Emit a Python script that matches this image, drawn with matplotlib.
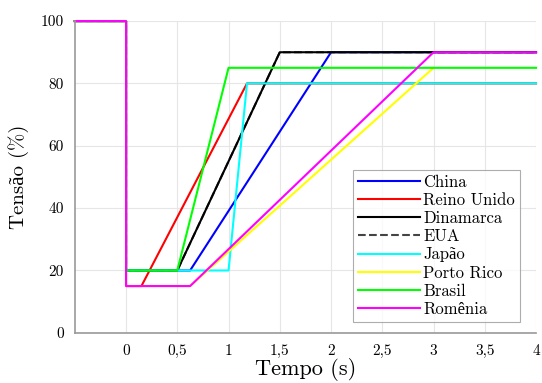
import matplotlib
matplotlib.use('Agg')
import matplotlib.pyplot as plt

# voltage profiles (time in s, voltage in %)
china_t = [-0.5, 0, 0, 0.625, 2.0, 4]
china_v = [100, 100, 20, 20, 90, 90]
reino_t = [-0.5, 0, 0, 0.15, 1.18, 4]
reino_v = [100, 100, 15, 15, 80, 80]
dinamarca_t = [-0.5, 0, 0, 0.5, 1.5, 4]
dinamarca_v = [100, 100, 20, 20, 90, 90]
eua_t = [-0.5, 0, 0, 0.5, 1.5, 4]
eua_v = [100, 100, 20, 20, 90, 90]
japao_t = [-0.5, 0, 0, 1.0, 1.18, 4]
japao_v = [100, 100, 20, 20, 80, 80]
porto_t = [-0.5, 0, 0, 0.625, 3.0]
porto_v = [100, 100, 15, 15, 85]
brasil_t = [-0.5, 0, 0, 0.5, 1.0, 4]
brasil_v = [100, 100, 20, 20, 85, 85]
romenia_t = [-0.5, 0, 0, 0.625, 3.0, 4]
romenia_v = [100, 100, 15, 15, 90, 90]

xticks = [0, 0.5, 1, 1.5, 2, 2.5, 3, 3.5, 4]
xticklabels = ['0', '0,5', '1', '1,5', '2', '2,5', '3', '3,5', '4']
yticks = [0, 20, 40, 60, 80, 100]

plt.rcParams['font.family'] = ['cmr10', 'Liberation Serif', 'DejaVu Serif']

fig = plt.figure(figsize=(5.42, 3.83), dpi=100)
ax = fig.add_axes([0.138, 0.131, 0.851, 0.814])

lw = 1.5
ax.plot(china_t, china_v, color='#0000ff', lw=lw, label='China', clip_on=False)
ax.plot(reino_t, reino_v, color='#ff0000', lw=lw, label='Reino Unido', clip_on=False)
ax.plot(eua_t, eua_v, color='#444444', lw=lw, ls='--', label='_eua', clip_on=False)
ax.plot(dinamarca_t, dinamarca_v, color='black', lw=lw, label='Dinamarca', clip_on=False)
ax.plot([], [], color='#444444', lw=lw, ls='--', label='EUA')
ax.plot(japao_t, japao_v, color='#00ffff', lw=lw, label='Japão', clip_on=False)
ax.plot(porto_t, porto_v, color='#ffff00', lw=lw, label='Porto Rico', clip_on=False)
ax.plot(brasil_t, brasil_v, color='#00ff00', lw=lw, label='Brasil', clip_on=False)
ax.plot(romenia_t, romenia_v, color='#ff00ff', lw=lw, label='Romênia', clip_on=False)

ax.set_xlim(-0.5, 4)
ax.set_ylim(0, 100)
ax.set_xticks(xticks)
ax.set_xticklabels(xticklabels)
ax.set_yticks(yticks)
ax.tick_params(length=0, labelsize=11, pad=8)
ax.grid(True, color='#e6e6e6', lw=0.8)
ax.set_axisbelow(True)
for s in ['top', 'right']:
    ax.spines[s].set_visible(False)
for s in ['left', 'bottom']:
    ax.spines[s].set_color('#999999')
    ax.spines[s].set_linewidth(1.2)

ax.set_xlabel('Tempo (s)', fontsize=16, labelpad=0)
ax.set_ylabel('Tensão (%)', fontsize=15, labelpad=8)

leg = ax.legend(loc='lower right', bbox_to_anchor=(0.965, 0.035), fontsize=12,
                frameon=True, fancybox=False, edgecolor='#999999',
                handlelength=3.7, handletextpad=0.2, labelspacing=0.17,
                borderpad=0.3, borderaxespad=0)
leg.get_frame().set_linewidth(0.8)

fig.savefig('out.png', dpi=100)
